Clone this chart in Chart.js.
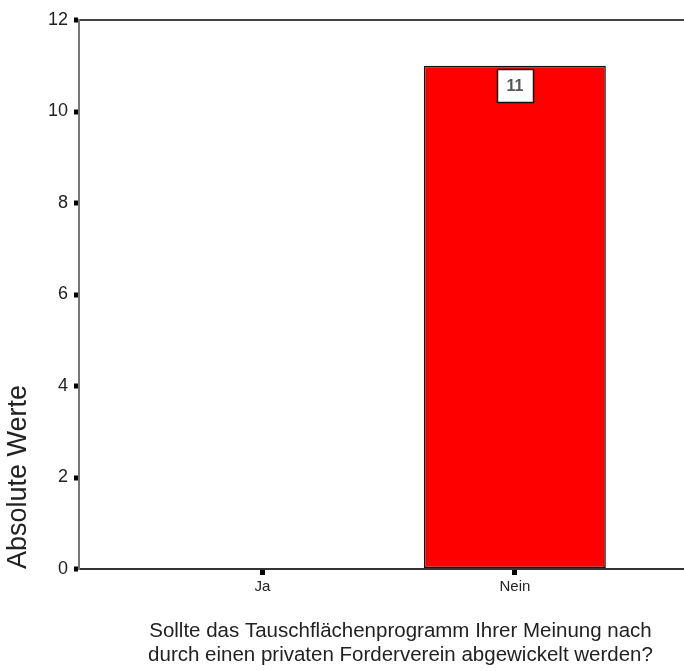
<!DOCTYPE html>
<html>
<head>
<meta charset="utf-8">
<title>Tauschflächenprogramm</title>
<script src="https://cdn.jsdelivr.net/npm/chart.js@4/dist/chart.umd.min.js"></script>
<style>
  html, body { margin: 0; padding: 0; background: #fff; overflow: hidden; }
  #wrap { width: 722px; height: 671px; position: relative; }
</style>
</head>
<body>
<div id="wrap"><canvas id="barChart"></canvas></div>
<script>
var categories = ["Ja", "Nein"];
var counts = [0, 11];
var yTicks = [0, 2, 4, 6, 8, 10, 12];
var yTitle = "Absolute Werte";
var xTitle = ["Sollte das Tauschflächenprogramm Ihrer Meinung nach",
              "durch einen privaten Forderverein abgewickelt werden?"];

var sans = "'Liberation Sans', Arial, sans-serif";

// boxed count label at the top of each bar
var boxLabels = {
    id: "boxLabels",
    afterDatasetsDraw: function (chart) {
        var ctx = chart.ctx;
        var meta = chart.getDatasetMeta(0);
        meta.data.forEach(function (bar, i) {
            if (!counts[i]) return;
            var w = 36, h = 33;
            var left = Math.round(bar.x - w / 2) + 0.5;
            var top = Math.round(bar.y + 3) + 0.5;
            ctx.save();
            ctx.fillStyle = "#fff";
            ctx.strokeStyle = "#111";
            ctx.lineWidth = 1.5;
            ctx.fillRect(left, top, w, h);
            ctx.strokeRect(left, top, w, h);
            ctx.fillStyle = "#555";
            ctx.font = "bold 16px " + sans;
            ctx.textAlign = "center";
            ctx.textBaseline = "middle";
            ctx.fillText(String(counts[i]), bar.x, top + h / 2 + 1);
            ctx.restore();
        });
    }
};

var barData = categories.map(function (c, i) {
    return { x: i + 1, y: counts[i] };
});

var barChart = new Chart(document.getElementById("barChart"), {
    type: "bar",
    data: {
        datasets: [{
            data: barData,
            backgroundColor: "#ff0000",
            borderColor: "#111",
            borderWidth: 1.5,
            borderSkipped: false,
            barPercentage: 0.72,
            categoryPercentage: 1
        }]
    },
    options: {
        responsive: true,
        maintainAspectRatio: false,
        animation: false,
        layout: { padding: { top: 20, left: 0, right: 0, bottom: 0 } },
        plugins: {
            legend: { display: false },
            tooltip: { enabled: false }
        },
        scales: {
            x: {
                type: "linear",
                offset: false,
                min: 0.274,
                max: 2.82,
                afterBuildTicks: function (scale) {
                    scale.ticks = categories.map(function (c, i) { return { value: i + 1 }; });
                },
                ticks: {
                    callback: function (v) { return categories[v - 1]; },
                    color: "#222",
                    font: { family: sans, size: 15 },
                    padding: 3
                },
                grid: {
                    offset: false,
                    drawOnChartArea: false,
                    tickLength: 6,
                    tickWidth: 5,
                    tickColor: "#000"
                },
                border: { color: "#333", width: 2 },
                title: {
                    display: true,
                    text: xTitle,
                    color: "#222",
                    font: { family: sans, size: 20.5, lineHeight: 1.17 },
                    padding: { top: 20, bottom: 4 }
                }
            },
            y: {
                min: 0,
                max: 12,
                afterFit: function (scale) { scale.width = 79; },
                afterBuildTicks: function (scale) {
                    scale.ticks = yTicks.map(function (v) { return { value: v }; });
                },
                ticks: {
                    color: "#222",
                    font: { family: sans, size: 18 },
                    padding: 6
                },
                grid: {
                    color: function (c) { return c.tick && c.tick.value === 12 ? "#444" : "rgba(0,0,0,0)"; },
                    lineWidth: 2,
                    tickLength: 5,
                    tickWidth: 5,
                    tickColor: "#000"
                },
                border: { color: "#777", width: 2 },
                title: {
                    display: true,
                    text: yTitle,
                    align: "start",
                    color: "#222",
                    font: { family: sans, size: 27, lineHeight: 1.2 },
                    padding: { top: 2, bottom: 0 }
                }
            }
        }
    },
    plugins: [boxLabels]
});
</script>
</body>
</html>
